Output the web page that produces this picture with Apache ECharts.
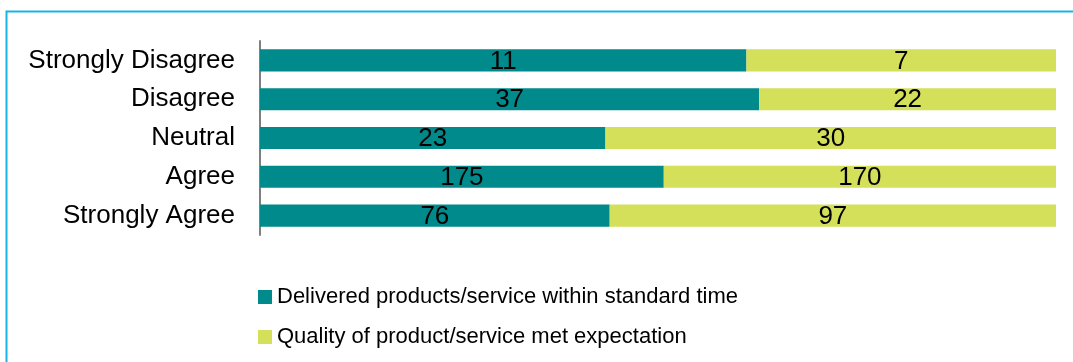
<!DOCTYPE html>
<html>
<head>
<meta charset="utf-8">
<script src="https://cdn.jsdelivr.net/npm/echarts@6/dist/echarts.min.js"></script>
<style>
  html, body { margin: 0; padding: 0; background: #ffffff; }
  #chart { width: 1073px; height: 362px; }
</style>
</head>
<body>
<div id="chart"></div>
<script>
// Survey responses per agreement level
const categories = ['Strongly Disagree', 'Disagree', 'Neutral', 'Agree', 'Strongly Agree'];
const seriesNames = [
  'Delivered products/service within standard time',
  'Quality of product/service met expectation'
];
const deliveredCounts = [11, 37, 23, 175, 76];
const qualityCounts = [7, 22, 30, 170, 97];

const colors = ['#008a8c', '#d4df5a'];
const fontFamily = '"Liberation Sans", Arial, sans-serif';

// 100% stacked: each bar shows its share of the row total, labelled with the raw count
const totals = categories.map((_, i) => deliveredCounts[i] + qualityCounts[i]);
const toShare = (arr) => arr.map((v, i) => ({ value: v / totals[i] * 100, count: v }));

const chart = echarts.init(document.getElementById('chart'), null, { renderer: 'canvas' });

const labelStyle = {
  show: true,
  position: 'inside',
  color: '#000000',
  fontSize: 26,
  fontFamily: fontFamily,
  offset: [0, 1],
  formatter: (p) => String(p.data.count)
};

chart.setOption({
  animation: false,
  backgroundColor: '#ffffff',
  color: colors,
  graphic: [{
    type: 'rect',
    shape: { x: 6.5, y: 11.5, width: 1100, height: 400 },
    style: { fill: 'none', stroke: '#1ab3e8', lineWidth: 2 },
    silent: true,
    z: 0
  }],
  grid: { left: 260, right: 17, top: 41, bottom: 127, containLabel: false },
  xAxis: {
    type: 'value',
    min: 0,
    max: 100,
    show: false
  },
  yAxis: {
    type: 'category',
    data: categories,
    inverse: true,
    axisLine: { show: true, lineStyle: { color: '#7f7f7f', width: 2 } },
    axisTick: { show: false },
    axisLabel: { color: '#000000', fontSize: 26, fontFamily: fontFamily, margin: 25 },
    splitLine: { show: false }
  },
  legend: {
    orient: 'vertical',
    left: 253,
    top: 281,
    icon: 'rect',
    itemWidth: 14,
    itemHeight: 14,
    itemGap: 18,
    textStyle: { color: '#000000', fontSize: 22, lineHeight: 22, fontFamily: fontFamily },
    data: seriesNames
  },
  series: [
    {
      name: seriesNames[0],
      type: 'bar',
      stack: 'total',
      barWidth: '57%',
      data: toShare(deliveredCounts),
      label: labelStyle
    },
    {
      name: seriesNames[1],
      type: 'bar',
      stack: 'total',
      barWidth: '57%',
      data: toShare(qualityCounts),
      label: labelStyle
    }
  ]
});
</script>
</body>
</html>
